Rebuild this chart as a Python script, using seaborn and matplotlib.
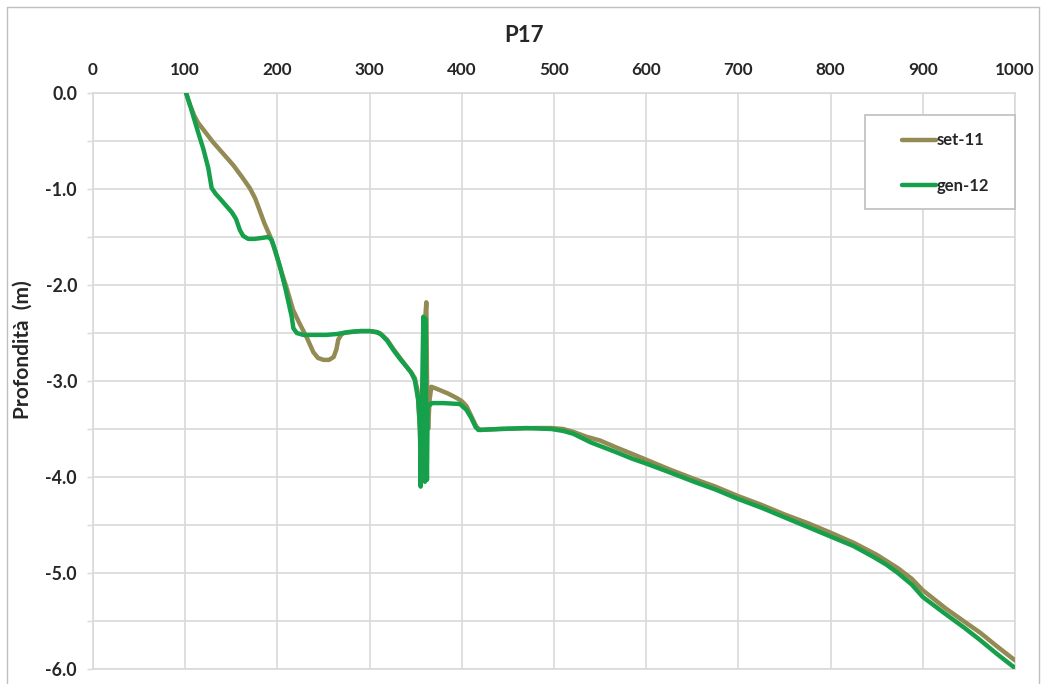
import matplotlib
matplotlib.use("Agg")
import matplotlib.pyplot as plt
import seaborn as sns
import pandas as pd
from matplotlib.patches import Rectangle
from matplotlib.lines import Line2D

# ---------------- data ----------------
set11_x = [101, 105, 110, 114, 122, 130, 141, 152, 162, 170, 176, 181, 186, 192, 196,
           203, 210, 217, 224, 232, 239, 244, 250, 256, 261, 264, 266, 269, 272, 280,
           290, 300, 311, 319, 326, 333, 340, 345, 349, 352, 354, 355.5, 357, 358.5,
           360, 361.5, 362.5, 363.5, 365, 367, 375, 385, 395, 400, 405, 410, 416, 420,
           440, 460, 480, 497, 510, 521, 535, 550, 567, 585, 600, 625, 652, 675, 700,
           725, 750, 775, 800, 826, 850, 873, 888, 900, 925, 950, 962, 980, 1000]
set11_y = [0.0, -0.12, -0.24, -0.31, -0.41, -0.51, -0.63, -0.75, -0.88, -0.99, -1.10,
           -1.23, -1.36, -1.49, -1.60, -1.82, -2.03, -2.26, -2.40, -2.55, -2.70, -2.76,
           -2.78, -2.78, -2.75, -2.67, -2.57, -2.52, -2.50, -2.49, -2.48, -2.48, -2.50,
           -2.57, -2.67, -2.76, -2.85, -2.91, -2.97, -3.10, -3.40, -3.75, -3.95, -3.10,
           -2.40, -2.18, -3.20, -3.50, -3.20, -3.06, -3.09, -3.13, -3.18, -3.21, -3.26,
           -3.36, -3.48, -3.51, -3.50, -3.495, -3.49, -3.49, -3.50, -3.53, -3.58, -3.62,
           -3.69, -3.76, -3.82, -3.92, -4.02, -4.10, -4.20, -4.29, -4.39, -4.48, -4.58,
           -4.69, -4.81, -4.95, -5.06, -5.18, -5.37, -5.54, -5.62, -5.76, -5.91]

gen12_x = [101, 106, 110.6, 115, 119.6, 125, 128.7, 133, 137.7, 144, 150.4, 155, 159.4,
           163, 168.5, 175, 183, 190, 193.8, 198, 202.8, 209, 215.5, 217.3, 221, 228,
           240, 253, 265, 277, 290, 300, 308, 313, 319, 326, 333, 340, 345, 349, 352.8,
           354.7, 355.4, 356.5, 358.3, 359.2, 360, 360.6, 361.5, 362.2, 363, 365.5,
           367.3, 380, 398, 405, 410, 415, 418, 441, 470, 497, 510, 521, 540, 567, 585,
           600, 625, 652, 675, 700, 725, 750, 775, 800, 825, 846, 860, 873, 888, 900,
           923.6, 945, 962.4, 980, 1000]
gen12_y = [0.0, -0.15, -0.30, -0.44, -0.58, -0.78, -0.99, -1.05, -1.10, -1.17, -1.24,
           -1.31, -1.43, -1.49, -1.52, -1.52, -1.51, -1.50, -1.53, -1.65, -1.81, -2.05,
           -2.33, -2.45, -2.50, -2.52, -2.52, -2.52, -2.51, -2.49, -2.48, -2.48, -2.49,
           -2.52, -2.58, -2.68, -2.77, -2.85, -2.91, -2.99, -3.20, -3.51, -4.10, -3.40,
           -2.33, -3.40, -4.05, -2.35, -3.60, -4.03, -3.25, -3.25, -3.23, -3.23, -3.24,
           -3.30, -3.38, -3.48, -3.51, -3.50, -3.49, -3.50, -3.52, -3.55, -3.64, -3.74,
           -3.81, -3.86, -3.95, -4.05, -4.13, -4.23, -4.32, -4.42, -4.52, -4.62, -4.72,
           -4.83, -4.91, -5.00, -5.12, -5.25, -5.42, -5.57, -5.70, -5.84, -5.99]

series_names = ["set-11", "gen-12"]
x_ticks = [0, 100, 200, 300, 400, 500, 600, 700, 800, 900, 1000]
x_tick_labels = ["0", "100", "200", "300", "400", "500", "600", "700", "800", "900", "1000"]
y_ticks = [0.0, -1.0, -2.0, -3.0, -4.0, -5.0, -6.0]
y_tick_labels = ["0.0", "-1.0", "-2.0", "-3.0", "-4.0", "-5.0", "-6.0"]
y_minor_ticks = [-0.5, -1.5, -2.5, -3.5, -4.5, -5.5]
title = "P17"
y_label = "Profondità  (m)"

# ---------------- style ----------------
sns.set_style("white")
plt.rcParams["font.family"] = ["Lato", "DejaVu Sans"]
plt.rcParams["font.weight"] = "bold"

colors = {"set-11": "#948A54", "gen-12": "#17A04C"}
grid_c = "#D9D9D9"

df = pd.concat([
    pd.DataFrame({"dist": set11_x, "depth": set11_y, "serie": series_names[0]}),
    pd.DataFrame({"dist": gen12_x, "depth": gen12_y, "serie": series_names[1]}),
], ignore_index=True)

fig = plt.figure(figsize=(10.44, 6.84), dpi=100)
ax = fig.add_axes([93 / 1044, 1 - 669 / 684, 922 / 1044, 576 / 684])

sns.lineplot(data=df, x="dist", y="depth", hue="serie", palette=colors,
             sort=False, estimator=None, lw=3.2, ax=ax, legend=False,
             solid_capstyle="round", solid_joinstyle="round", zorder=3)

ax.set_xlim(0, 1000)
ax.set_ylim(-6, 0)
ax.xaxis.tick_top()
ax.set_xticks(x_ticks)
ax.set_xticklabels(x_tick_labels, fontsize=12.3, fontweight="bold")
ax.set_yticks(y_ticks)
ax.set_yticklabels(y_tick_labels, fontsize=12.8, fontweight="bold")
ax.set_yticks(y_minor_ticks, minor=True)
ax.tick_params(axis="x", which="both", length=0, pad=11)
ax.tick_params(axis="y", which="both", length=4.5, width=1.0, color=grid_c,
               pad=7, left=True)
ax.grid(True, which="both", color=grid_c, lw=1.2, zorder=0)
ax.set_axisbelow(True)
for s in ax.spines.values():
    s.set_color(grid_c)
    s.set_linewidth(1.2)
ax.set_xlabel("")
ax.set_ylabel(y_label, fontsize=15, fontweight="bold")
ax.yaxis.set_label_coords((33 - 93) / 922, 1 - (350 - 93) / 576)

# title
fig.text(524 / 1044, 1 - 35 / 684, title, fontsize=16, fontweight="bold",
         ha="center", va="center")

# legend box and legend
bx0 = (865 - 93) / 922
by0 = 1 - (209 - 93) / 576
ax.add_patch(Rectangle((bx0, by0), 1 - bx0, (209 - 115) / 576, transform=ax.transAxes,
                       facecolor="white", edgecolor="#BFBFBF", lw=1.2, zorder=4,
                       clip_on=False))
handles = [Line2D([0], [0], color=colors[n], lw=3.2) for n in series_names]
leg = ax.legend(handles, series_names, loc="center left",
                bbox_to_anchor=((894 - 93) / 922, 1 - (163 - 93) / 576),
                frameon=False, borderpad=0, handlelength=2.0, handletextpad=0.05,
                labelspacing=1.75, prop={"size": 12, "weight": "bold"})
leg.set_zorder(5)

# outer chart border
border_c = "#BFBFBF"
fig.add_artist(Line2D([7 / 1044, 7 / 1044], [0, 1 - 7 / 684], color=border_c, lw=1.0,
                      transform=fig.transFigure))
fig.add_artist(Line2D([7 / 1044, 1039 / 1044], [1 - 7 / 684, 1 - 7 / 684], color=border_c,
                      lw=1.0, transform=fig.transFigure))
fig.add_artist(Line2D([1039 / 1044, 1039 / 1044], [0, 1 - 7 / 684], color=border_c, lw=1.0,
                      transform=fig.transFigure))

fig.savefig("out.png", dpi=100)
